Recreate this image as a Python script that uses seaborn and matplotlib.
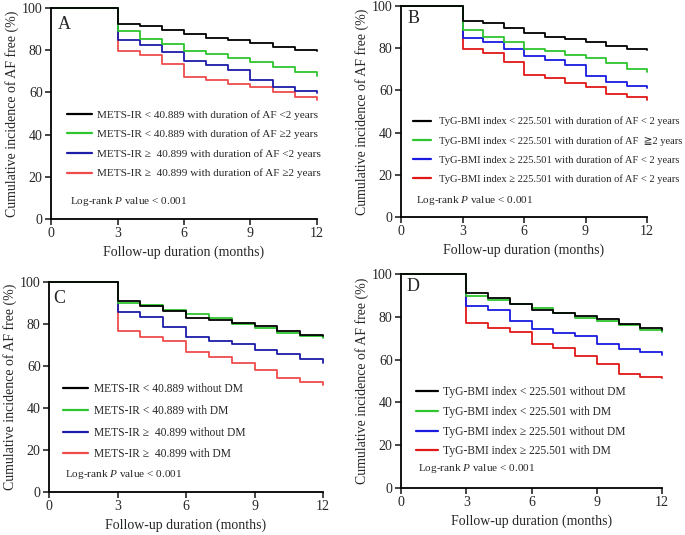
import numpy as np
import pandas as pd
import matplotlib
matplotlib.use("Agg")
import matplotlib.pyplot as plt
import seaborn as sns

# ---------------- data ----------------
months = [0, 3, 4, 5, 6, 7, 8, 9, 10, 11, 12]

# Panel A
a_labels = ["METS-IR < 40.889 with duration of AF <2 years",
            "METS-IR < 40.889 with duration of AF \u22652 years",
            "METS-IR \u2265  40.899 with duration of AF <2 years",
            "METS-IR \u2265  40.899 with duration of AF \u22652 years"]
a_black = [100, 92.5, 91.7, 89.5, 87.5, 86.0, 85.0, 83.5, 81.5, 80.3, 79.5]
a_green = [100, 89.0, 85.5, 83.0, 79.5, 78.0, 76.5, 74.5, 72.0, 69.5, 68.0]
a_blue = [100, 85.0, 82.5, 79.0, 75.0, 73.0, 70.5, 66.0, 62.5, 60.5, 59.5]
a_red = [100, 79.5, 77.5, 73.5, 67.5, 66.0, 64.0, 62.5, 60.0, 58.0, 56.5]

# Panel B
b_labels = ["TyG-BMI index < 225.501 with duration of AF < 2 years",
            "TyG-BMI index < 225.501 with duration of AF  \u22672 years",
            "TyG-BMI index \u2265 225.501 with duration of AF < 2 years",
            "TyG-BMI index \u2265 225.501 with duration of AF < 2 years"]
b_black = [100, 93.0, 92.0, 89.5, 87.0, 85.5, 84.5, 83.0, 81.0, 79.5, 79.0]
b_green = [100, 88.5, 85.5, 83.0, 79.5, 78.5, 77.0, 75.5, 73.0, 70.0, 68.5]
b_blue = [100, 85.0, 83.0, 79.5, 76.5, 74.5, 72.0, 67.0, 64.0, 62.0, 61.0]
b_red = [100, 79.5, 77.5, 73.5, 67.5, 66.0, 63.5, 61.5, 58.5, 57.0, 55.5]

# Panel C
c_labels = ["METS-IR < 40.889 without DM",
            "METS-IR < 40.889 with DM",
            "METS-IR \u2265  40.899 without DM",
            "METS-IR \u2265  40.899 with DM"]
c_black = [100, 91.0, 88.5, 86.0, 83.0, 82.0, 80.5, 79.0, 76.5, 75.0, 74.5]
c_green = [100, 90.0, 89.0, 86.5, 85.0, 83.0, 80.0, 78.0, 75.5, 74.5, 73.5]
c_blue = [100, 85.5, 83.5, 78.5, 74.0, 72.0, 70.5, 67.5, 65.5, 63.5, 61.5]
c_red = [100, 76.5, 74.0, 72.0, 66.5, 64.5, 61.5, 58.0, 54.5, 52.5, 51.0]

# Panel D
d_labels = ["TyG-BMI index < 225.501 without DM",
            "TyG-BMI index < 225.501 with DM",
            "TyG-BMI index \u2265 225.501 without DM",
            "TyG-BMI index \u2265 225.501 with DM"]
d_black = [100, 91.0, 89.0, 86.0, 83.0, 82.0, 80.5, 79.0, 76.5, 75.0, 74.0]
d_green = [100, 89.5, 88.0, 86.0, 84.0, 82.0, 79.5, 78.0, 76.0, 74.0, 73.0]
d_blue = [100, 85.0, 83.0, 78.0, 74.5, 72.5, 71.0, 67.5, 65.0, 63.5, 62.0]
d_red = [100, 77.0, 75.0, 73.0, 67.5, 65.5, 61.5, 58.0, 53.5, 52.0, 51.5]

panel_letters = ["A", "B", "C", "D"]
x_ticks = [0, 3, 6, 9, 12]
y_ticks = [0, 20, 40, 60, 80, 100]
x_label = "Follow-up duration (months)"
y_label = "Cumulative incidence of AF free (%)"
logrank_text = r"Log-rank $P$ value < 0.001"

# ---------------- style ----------------
sns.set_style("ticks")
plt.rcParams["font.family"] = ["Liberation Serif", "DejaVu Serif", "DejaVu Sans",
                               "Noto Sans CJK SC"]
plt.rcParams["mathtext.fontset"] = "custom"
plt.rcParams["mathtext.rm"] = "Liberation Serif"
plt.rcParams["mathtext.it"] = "Liberation Serif:italic"

colors_ac = ["#000000", "#2ec52e", "#1c1ca8", "#ee4c4c"]
colors_bd = ["#000000", "#2ec52e", "#1a1ae0", "#e01818"]

fig = plt.figure(figsize=(6.85, 5.35), dpi=100)
W, H = 685, 535
# axes rectangles in pixels: left, top, right, bottom
rects = [(51, 8, 317, 219), (401, 6, 647, 217),
         (49, 282, 323, 492), (401, 274, 662, 488)]
# labels, series, colours, legend x, legend y, labelspacing, handlelength,
# handletextpad, legend fontsize, log-rank y, letter x, letter y
panels = [
    (a_labels, [a_black, a_green, a_blue, a_red], colors_ac,
     0.06, 0.517, 0.86, 2.2, 0.5, 8.1, 0.085, 0.025, 0.92),
    (b_labels, [b_black, b_green, b_blue, b_red], colors_bd,
     0.05, 0.475, 0.90, 1.7, 0.75, 7.6, 0.08, 0.025, 0.94),
    (c_labels, [c_black, c_green, c_blue, c_red], colors_ac,
     0.05, 0.519, 0.85, 2.2, 0.5, 8.3, 0.085, 0.015, 0.92),
    (d_labels, [d_black, d_green, d_blue, d_red], colors_bd,
     0.057, 0.477, 0.68, 1.9, 0.45, 8.3, 0.09, 0.023, 0.94),
]

for i, ((l, t, r, b), p) in enumerate(zip(rects, panels)):
    labels, series, cols, lx, ly, ls, hl, htp, lfs, py, tx, ty = p
    ax = fig.add_axes([l / W, 1 - b / H, (r - l) / W, (b - t) / H])
    rows = []
    keys = [f"g{k}" for k in range(len(labels))]
    for key, vals in zip(keys, series):
        for m, v in zip(months, vals):
            rows.append({"month": m, "surv": v, "group": key})
    df = pd.DataFrame(rows)
    sns.lineplot(data=df, x="month", y="surv", hue="group", hue_order=keys,
                 palette=cols, estimator=None, sort=False,
                 drawstyle="steps-post", linewidth=1.3, ax=ax, legend=False)
    lines = ax.get_lines()[:len(keys)]
    for k, ln in enumerate(lines):
        ln.set_zorder(10 - k)
        ln.set_clip_on(False)
    ax.set_xlim(0, 12)
    ax.set_ylim(0, 100)
    ax.set_xticks(x_ticks)
    ax.set_yticks(y_ticks)
    ax.set_xlabel(x_label, fontsize=10)
    ax.set_ylabel(y_label, fontsize=10, labelpad=2)
    ax.tick_params(axis="both", labelsize=10, width=1.2, length=4, direction="out", pad=2)
    for s in ["top", "right"]:
        ax.spines[s].set_visible(False)
    for s in ["left", "bottom"]:
        ax.spines[s].set_linewidth(1.3)
        ax.spines[s].set_color("black")
        ax.spines[s].set_zorder(20)
    leg = ax.legend(lines, labels, loc="upper left", bbox_to_anchor=(lx, ly),
                    frameon=False, fontsize=lfs, handlelength=hl,
                    handletextpad=htp, labelspacing=ls,
                    borderaxespad=0, borderpad=0)
    for h in leg.get_lines():
        h.set_linewidth(1.6)
    ax.text(lx + 0.01, py, logrank_text, transform=ax.transAxes,
            fontsize=8.1, ha="left", va="center")
    ax.text(tx, ty, panel_letters[i], transform=ax.transAxes,
            fontsize=13, ha="left", va="center")

fig.savefig("out.png", dpi=100)
